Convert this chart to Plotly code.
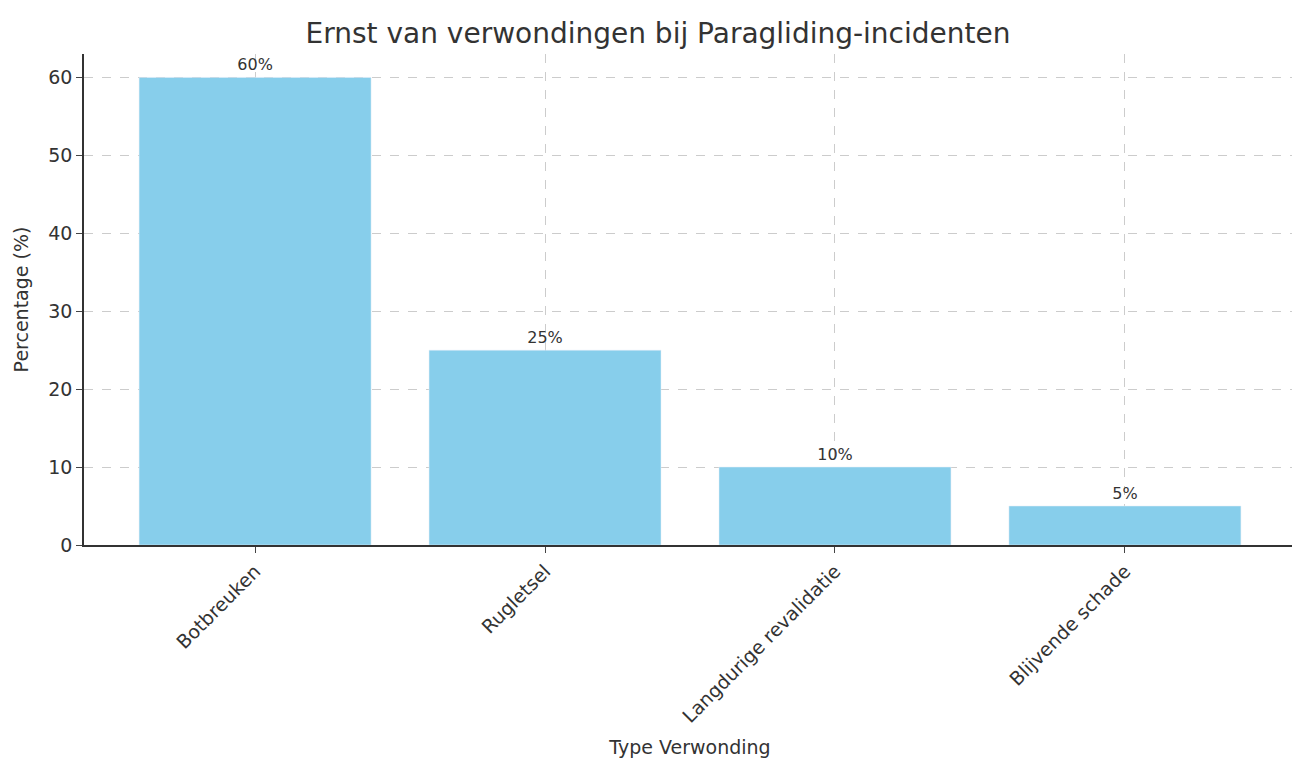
import plotly.graph_objects as go

categories = ["Botbreuken", "Rugletsel", "Langdurige revalidatie", "Blijvende schade"]
values = [60, 25, 10, 5]
labels = ["60%", "25%", "10%", "5%"]

fig = go.Figure(go.Bar(
    x=categories, y=values, width=0.8, marker_color="#87CEEB",
    text=labels, textposition="outside", cliponaxis=False,
    textfont=dict(size=16, color="#333333"),
))
font = "DejaVu Sans"
fig.update_layout(
    width=1300, height=775, plot_bgcolor="white", paper_bgcolor="white",
    margin=dict(l=76, r=12, t=46, b=238),
    font=dict(family=font, color="#333333"),
    title=dict(text="Ernst van verwondingen bij Paragliding-incidenten", x=0.5, xanchor="center",
               y=0.967, yanchor="middle", font=dict(size=28, color="#333333")),
    showlegend=False, bargap=0.2,
)
fig.update_xaxes(
    range=[-0.59, 3.59], tickangle=-45, tickfont=dict(size=19),
    title=dict(text="Type Verwonding", font=dict(size=19)),
    showline=True, linecolor="#333333", linewidth=1.5, ticks="outside", ticklen=6,
    showgrid=True, gridcolor="#cccccc", griddash="dash", gridwidth=1,
)
fig.update_yaxes(
    range=[0, 63], dtick=10, tickfont=dict(size=19),
    title=dict(text="Percentage (%)", font=dict(size=19)),
    showline=True, linecolor="#333333", linewidth=1.5, ticks="outside", ticklen=6,
    showgrid=True, gridcolor="#cccccc", griddash="dash", gridwidth=1, zeroline=False,
)
fig.write_html("out.html")
